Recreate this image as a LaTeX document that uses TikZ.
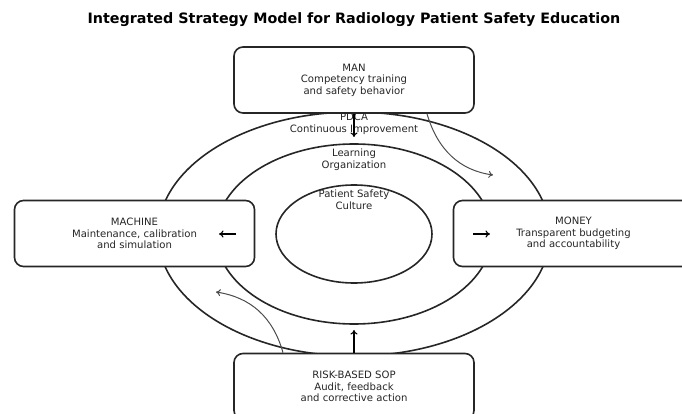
\documentclass[tikz,border=0pt]{standalone}
\usepackage{fontspec}
\setmainfont{DejaVu Sans}
\usetikzlibrary{arrows.meta}
\begin{document}
\begin{tikzpicture}[x=1pt,y=-1pt,
  ring/.style={draw=black!85,line width=1.6pt},
  box/.style={draw=black!85,line width=1.6pt,fill=white,rounded corners=9pt,minimum width=240pt,minimum height=66pt,inner sep=0pt,align=center,text=black!85,font=\fontsize{10.1}{11.6}\selectfont},
  lbl/.style={align=center,inner sep=0pt,text=black!85,font=\fontsize{10.1}{11.6}\selectfont},
  sarrow/.style={-{To[length=4.5pt,width=7pt]},line width=1.1pt,black},
  carrow/.style={-{To[length=4.5pt,width=7pt]},line width=1pt,black!70}]
\useasboundingbox (0,0) rectangle (682,414);
\node[font=\fontsize{14.3}{16}\bfseries\selectfont] (title) at (354,20) {Integrated Strategy Model for Radiology Patient Safety Education};
\draw[ring] (354,234) ellipse [x radius=196, y radius=122];
\draw[ring] (354,234) ellipse [x radius=138, y radius=90];
\draw[ring] (354,234) ellipse [x radius=78, y radius=49];
\node[box] (man) at (354,80) {MAN\\Competency training\\and safety behavior};
\node[box] (machine) at (134.5,233.5) {MACHINE\\Maintenance, calibration\\and simulation};
\node[box] (money) at (573.5,233.5) {MONEY\\Transparent budgeting\\and accountability};
\node[box] (sop) at (354,386.5) {RISK-BASED SOP\\Audit, feedback\\and corrective action};
\node[lbl] (pdca) at (354,124) {PDCA\\Continuous Improvement};
\node[lbl] (learn) at (354,160) {Learning\\Organization};
\node[lbl] (culture) at (354,200) {Patient Safety\\Culture};
\coordinate (c1) at (354,137);
\coordinate (c2) at (493,175);
\coordinate (c3) at (219,234);
\coordinate (c4) at (490,234);
\coordinate (c5) at (354,330);
\coordinate (c6) at (216,292);
\coordinate (m1) at (236,234);
\coordinate (m2) at (473,234);
\draw[sarrow] (man.south) -- (c1);
\draw[carrow] ([xshift=73pt]man.south) .. controls (437.7,150) and (459.7,170.3) .. (c2);
\draw[sarrow] (m1) -- (c3);
\draw[sarrow] (m2) -- (c4);
\draw[sarrow] (sop.north) -- (c5);
\draw[carrow] ([xshift=-71pt]sop.north) .. controls (273,317) and (250.7,297.3) .. (c6);
\end{tikzpicture}
\end{document}
